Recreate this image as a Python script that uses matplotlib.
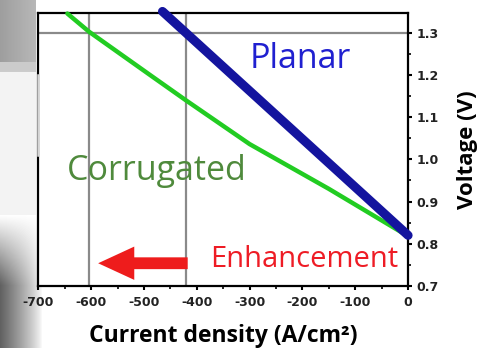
import numpy as np
import matplotlib.pyplot as plt
from matplotlib.patches import FancyArrowPatch
from matplotlib.ticker import MultipleLocator

# values
planar_j = [0, -465]
planar_v = [0.82, 1.35]
corr_j = [0, -79, -150, -300, -421, -489, -604, -645]
corr_v = [0.818, 0.877, 0.930, 1.036, 1.140, 1.200, 1.302, 1.345]
guide_j = [-604, -421]
guide_v = 1.3
x_ticks = [-700, -600, -500, -400, -300, -200, -100, 0]
y_ticks = [0.7, 0.8, 0.9, 1.0, 1.1, 1.2, 1.3]

fig = plt.figure(figsize=(4.79, 3.48), dpi=100)

# slide background (grey photo edge on the left)
bg = fig.add_axes([0, 0, 1, 1], zorder=-5)
h, w = 348, 479
img = np.ones((h, w))
xx = np.arange(w)[None, :]
yy = np.arange(h)[:, None]
edge = np.clip(1 - xx / 42.0, 0, 1) ** 0.8 * np.clip((yy - 215) / 70.0, 0, 1)
img = img - 0.62 * edge
img[72:215, 0:36] = 0.95
img[0:62, 0:36] = 0.62 + 0.1 * np.arange(36)[None, :] / 36
img[62:72, 0:36] = 0.80
bg.imshow(img, cmap='gray', vmin=0, vmax=1, aspect='auto', extent=[0, 1, 0, 1], origin='upper')
bg.axis('off')

ax = fig.add_axes([0.080, 0.178, 0.772, 0.7855])
ax.set_xlim(-700, 0)
ax.set_ylim(0.7, 1.347)

ax.axhline(guide_v, color='#8a8a8a', lw=1.6, zorder=1)
for j in guide_j:
    ax.axvline(j, color='#8a8a8a', lw=1.6, zorder=1)

ax.plot(corr_j, corr_v, color='#22cc22', lw=3.2, zorder=3, clip_on=False, solid_capstyle='round')
ax.plot(planar_j, planar_v, color='#14149e', lw=6.5, zorder=4, clip_on=False, solid_capstyle='round')

ax.text(-300, 1.216, 'Planar', color='#2020d0', fontsize=24.5, family='Open Sans', ha='left', va='baseline')
ax.text(-646, 0.951, 'Corrugated', color='#4f8a3c', fontsize=24.5, family='Open Sans', ha='left', va='baseline')
ax.text(-375, 0.745, 'Enhancement', color='#ee1c25', fontsize=21, family='Open Sans', ha='left', va='baseline')

arrow = FancyArrowPatch((-412, 0.754), (-592, 0.754),
                        arrowstyle='simple,head_length=2.6,head_width=2.4,tail_width=0.85',
                        mutation_scale=10, color='#ee1c1c', lw=0, zorder=5)
ax.add_patch(arrow)

ax.yaxis.tick_right()
ax.yaxis.set_label_position('right')
ax.set_xticks(x_ticks)
ax.set_yticks(y_ticks)
ax.set_xticklabels([str(t) for t in x_ticks])
ax.set_yticklabels(['%.1f' % t for t in y_ticks])
ax.xaxis.set_minor_locator(MultipleLocator(50))
ax.yaxis.set_minor_locator(MultipleLocator(0.05))
ax.tick_params(axis='both', which='major', direction='out', length=3, width=1.5,
               labelsize=9)
ax.tick_params(axis='x', which='major', pad=4)
ax.tick_params(axis='y', which='major', pad=3)
ax.tick_params(axis='both', which='minor', direction='out', length=2, width=1.2)
for lab in ax.get_xticklabels() + ax.get_yticklabels():
    lab.set_fontweight('bold')
    lab.set_family('DejaVu Sans')
    lab.set_color('#222222')

for s in ax.spines.values():
    s.set_linewidth(1.6)
    s.set_color('black')
# faded piece of the left frame in the scan
ax.plot([0, 0], [0.479, 0.772], transform=ax.transAxes, color='#d4d4d4',
        lw=1.8, clip_on=False, zorder=6)

ax.set_xlabel('Current density (A/cm²)', fontsize=16.5, family='Open Sans', fontweight='bold', labelpad=11)
ax.set_ylabel('Voltage (V)', fontsize=16, family='Open Sans', fontweight='bold', labelpad=13)

fig.savefig('out.png', dpi=100)
